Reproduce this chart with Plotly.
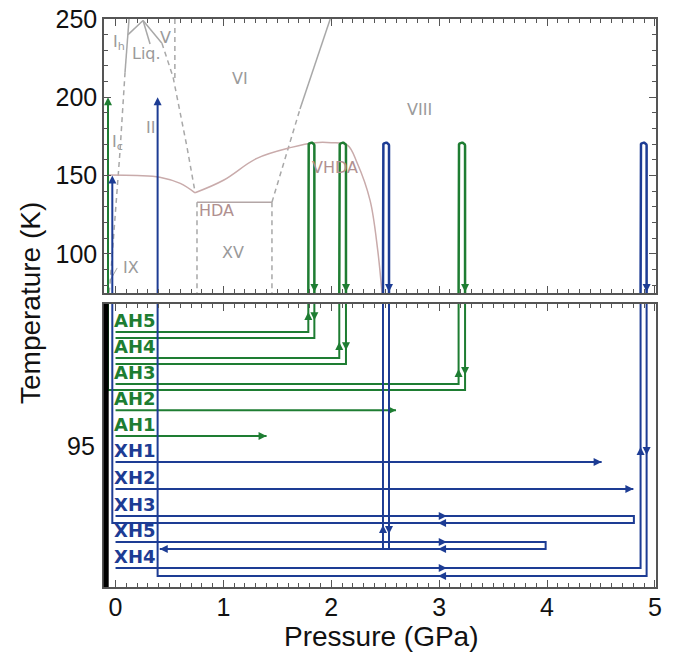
import numpy as np
import plotly.graph_objects as go

# ---------------- data ----------------
# Ice phase-boundary lines (pressure in GPa, temperature in K)
ih_liq_P = [0.125, 0.088]
ih_liq_T = [250, 216]
ih_iii_P = [0.116, 0.255]
ih_iii_T = [240, 249]
iii_liq_P = [0.255, 0.32]
iii_liq_T = [249, 234]
v_liq_P = [0.255, 0.43]
v_liq_T = [249, 234.5]
ic_dash_P = [0.088, 0.042, -0.051, -0.06]
ic_dash_T = [216, 166, 81, 75]
ii_dash_P = [0.43, 0.533, 0.663, 0.737]
ii_dash_T = [234.5, 213, 168, 139.5]
v_vi_P = [0.55, 0.55]
v_vi_T = [250, 212]
xv_left_P = [0.755, 0.755]
xv_right_P = [1.45, 1.45]
xv_side_T = [133, 75]
hda_P = [0.755, 1.45]
hda_T = [133, 133]
vi_viii_dash_P = [1.45, 1.71]
vi_viii_dash_T = [133, 192.5]
vi_viii_P = [1.71, 1.99]
vi_viii_T = [192.5, 250]
ix_ptr_P = [-0.05, 0.015]
ix_ptr_T = [83, 91]
# amorphous (LDA/HDA/VHDA) boundary
amorph_left_P = [-0.07, 0.2, 0.41, 0.6, 0.737]
amorph_left_T = [150.3, 150, 149, 145, 139]
amorph_right_P = [0.737, 1.0, 1.31, 1.63, 1.85, 2.0, 2.15, 2.24, 2.36, 2.43, 2.47]
amorph_right_T = [139, 147, 161, 168, 171, 171, 169.5, 158, 134, 102.5, 75]

phase_labels = ["I<sub>h</sub>", "Liq.", "V", "VI", "II", "I<sub>c</sub>", "IX", "XV", "VIII"]
phase_label_P = [0.03, 0.29, 0.46, 1.15, 0.32, 0.02, 0.14, 1.09, 2.82]
phase_label_T = [235, 228, 238.5, 212, 181, 171, 91, 101, 192]
amorph_labels = ["HDA", "VHDA"]
amorph_label_P = [0.94, 2.03]
amorph_label_T = [128, 155]

# lower (schematic) panel temperature tick
lower_tick_value = 95

# Sample pressure/temperature protocols
samples = ["AH5", "AH4", "AH3", "AH2", "AH1", "XH1", "XH2", "XH3", "XH5", "XH4"]
series = ["AH", "AH", "AH", "AH", "AH", "XH", "XH", "XH", "XH", "XH"]
row_out = [99.01, 98.09, 97.17, 96.25, 95.34, 94.42, 93.46, 92.51, 91.59, 90.67]
row_back = [98.80, 97.88, 96.96, None, None, None, None, 92.26, 91.34, 90.39]
start_P = 0.0
compress_P = [1.787, 2.074, 3.18, 2.60, 1.40, 4.506, 4.80, 4.805, 3.987, 4.867]
anneal_up_P = [1.787, 2.074, 3.18, None, None, None, None, None, 2.479, 4.867]
anneal_down_P = [1.843, 2.136, 3.24, None, None, None, None, None, 2.535, 4.923]
anneal_T = 171
release_P = [0.0, 0.0, -0.07, None, None, None, None, -0.03, 0.41, 0.39]
final_heat_T = [None, None, 200, None, None, None, None, 150, None, 200]
up_arrow_lvl = [99.72, 98.66, 97.70, None, None, None, None, None, 92.19, 94.95]
down_arrow_lvl = [99.43, 98.37, 97.49, None, None, None, None, None, 91.87, 94.66]
mid_arrows = [False, False, False, False, False, False, False, True, True, True]
release_arrow = [False, False, False, False, False, False, False, False, True, False]
mid_right_P = 3.07
mid_left_P = 2.99

# ---------------- style ----------------
GREEN = "#1e7d32"
BLUE = "#1d3c94"
GRAY = "#a8a8a8"
LABEL_GRAY = "#9a9a9a"
PINK = "#c9abab"
PINK_TXT = "#b09090"
FRAME = "#555555"

W, H = 678, 654
ML, MR, MT, MB = 104, 22, 19, 67
XR = [-0.107, 5.01]
TOP_R = [75, 250]
BOT_R = [90, 100]
plot_h = H - MT - MB
plot_w = W - ML - MR
top_dom = [(plot_h - 274) / plot_h, 1.0]
bot_dom = [0.0, 283 / plot_h]
px_per_P = plot_w / (XR[1] - XR[0])
px_per_T = (top_dom[1] - top_dom[0]) * plot_h / (TOP_R[1] - TOP_R[0])

fig = go.Figure()


def line(xs, ys, color, width=2, dash=None, top=True, shape="linear"):
    fig.add_trace(go.Scatter(
        x=xs, y=ys, mode="lines", xaxis="x" if top else "x2", yaxis="y" if top else "y2",
        line=dict(color=color, width=width, dash=dash, shape=shape),
        hoverinfo="skip", showlegend=False))


def arrow(x, y, direction, color, top=True, size=8):
    fig.add_trace(go.Scatter(
        x=[x], y=[y], mode="markers", xaxis="x" if top else "x2", yaxis="y" if top else "y2",
        marker=dict(symbol="arrow-" + direction, size=size, color=color, line=dict(width=0)),
        hoverinfo="skip", showlegend=False))


DASH = "5px,4px"
# phase diagram
line(ih_liq_P, ih_liq_T, GRAY, 1.5)
line(ih_iii_P, ih_iii_T, GRAY, 1.5)
line(iii_liq_P, iii_liq_T, GRAY, 1.5)
line(v_liq_P, v_liq_T, GRAY, 1.5)
line(ic_dash_P, ic_dash_T, GRAY, 1.5, DASH)
line(ii_dash_P, ii_dash_T, GRAY, 1.5, DASH)
line(v_vi_P, v_vi_T, GRAY, 1.5, DASH)
line(xv_left_P, xv_side_T, GRAY, 1.5, DASH)
line(xv_right_P, xv_side_T, GRAY, 1.5, DASH)
line(hda_P, hda_T, "#b3a6a6", 1.5)
line(vi_viii_dash_P, vi_viii_dash_T, GRAY, 1.5, DASH)
line(vi_viii_P, vi_viii_T, GRAY, 1.5)
line(ix_ptr_P, ix_ptr_T, GRAY, 1)
line(amorph_left_P, amorph_left_T, PINK, 1.5, shape="spline")
line(amorph_right_P, amorph_right_T, PINK, 1.5, shape="spline")

# sample paths
for i, name in enumerate(samples):
    c = GREEN if series[i] == "AH" else BLUE
    out, back = row_out[i], row_back[i]
    if back is None:
        line([start_P, compress_P[i]], [out, out], c, 2, top=False)
        arrow(compress_P[i], out, "right", c, top=False)
        continue
    rel = release_P[i]
    if anneal_up_P[i] is not None and anneal_up_P[i] == compress_P[i]:
        line([start_P, compress_P[i], compress_P[i]], [out, out, BOT_R[1]], c, 2, top=False)
        xs = [anneal_down_P[i], anneal_down_P[i], rel]
        ys = [BOT_R[1], back, back]
        if final_heat_T[i] is not None:
            xs.append(rel)
            ys.append(BOT_R[1])
        line(xs, ys, c, 2, top=False)
    else:
        xs = [start_P, compress_P[i], compress_P[i], rel]
        ys = [out, out, back, back]
        if final_heat_T[i] is not None:
            xs.append(rel)
            ys.append(BOT_R[1])
        line(xs, ys, c, 2, top=False)
        if anneal_up_P[i] is not None:
            line([anneal_up_P[i], anneal_up_P[i]], [back, BOT_R[1]], c, 2, top=False)
            line([anneal_down_P[i], anneal_down_P[i]], [BOT_R[1], back], c, 2, top=False)
    if mid_arrows[i]:
        arrow(mid_right_P, out, "right", c, top=False)
        arrow(mid_left_P, back, "left", c, top=False)
    if release_arrow[i]:
        arrow(rel, back, "left", c, top=False)
    if anneal_up_P[i] is not None:
        up, dn = anneal_up_P[i], anneal_down_P[i]
        arrow(up, up_arrow_lvl[i], "up", c, top=False)
        arrow(dn, down_arrow_lvl[i], "down", c, top=False)
        # rounded loop in the top panel
        w = (dn - up) / 2
        rT = w * px_per_P / px_per_T
        t = np.linspace(np.pi, 0, 13)
        lx = [up] + list((up + dn) / 2 + w * np.cos(t)) + [dn]
        ly = [TOP_R[0]] + list(anneal_T - rT + rT * np.sin(t)) + [TOP_R[0]]
        line(lx, ly, c, 2.5)
        arrow(dn, TOP_R[0] + 0.6, "down", c)
    if final_heat_T[i] is not None:
        line([rel, rel], [TOP_R[0], final_heat_T[i] - 2], c, 2)
        arrow(rel, final_heat_T[i], "up", c)

annotations = []
for txt, p, t in zip(phase_labels, phase_label_P, phase_label_T):
    annotations.append(dict(x=p, y=t, xref="x", yref="y", text=txt, showarrow=False,
                            font=dict(family="DejaVu Sans", size=16, color=LABEL_GRAY)))
for txt, p, t in zip(amorph_labels, amorph_label_P, amorph_label_T):
    annotations.append(dict(x=p, y=t, xref="x", yref="y", text=txt, showarrow=False,
                            font=dict(family="DejaVu Sans", size=16, color=PINK_TXT)))
for i, name in enumerate(samples):
    c = GREEN if series[i] == "AH" else BLUE
    annotations.append(dict(x=start_P, y=row_out[i], xref="x2", yref="y2", text="<b>%s</b>" % name,
                            showarrow=False, xanchor="left", yanchor="bottom", xshift=-4, yshift=-1,
                            font=dict(family="DejaVu Sans", size=18, color=c)))
# tick label of the lower panel
annotations.append(dict(x=-7 / plot_w, y=lower_tick_value, xref="paper", yref="y2",
                        text=str(lower_tick_value), showarrow=False, xanchor="right", yanchor="middle",
                        font=dict(family="Liberation Sans", size=25, color="#111111")))
annotations.append(dict(x=-74 / plot_w, y=(plot_h - 284) / plot_h, xref="paper", yref="paper",
                        text="Temperature (K)", textangle=-90, showarrow=False,
                        xanchor="center", yanchor="middle",
                        font=dict(family="Liberation Sans", size=28, color="#111111")))
annotations.append(dict(x=277 / plot_w, y=-49 / plot_h, xref="paper", yref="paper",
                        text="Pressure (GPa)", showarrow=False, xanchor="center", yanchor="middle",
                        font=dict(family="Liberation Sans", size=28, color="#111111")))

axis_common = dict(showline=True, linecolor=FRAME, linewidth=1.5, mirror="ticks", ticks="inside",
                   tickcolor=FRAME, tickwidth=1.2, ticklen=7, showgrid=False, zeroline=False,
                   automargin=False, ticklabeloverflow="allow",
                   tickfont=dict(family="Liberation Sans", size=25, color="#111111"))

fig.update_layout(
    width=W, height=H, margin=dict(l=ML, r=MR, t=MT, b=MB, autoexpand=False),
    plot_bgcolor="white", paper_bgcolor="white",
    xaxis=dict(axis_common, range=XR, domain=[0, 1], anchor="y", showticklabels=False,
               dtick=1, tick0=0, minor=dict(ticks="inside", dtick=0.1, ticklen=4, tickcolor=FRAME)),
    yaxis=dict(axis_common, range=TOP_R, domain=top_dom, anchor="x",
               tickvals=[100, 150, 200, 250],
               minor=dict(ticks="inside", dtick=10, tick0=0, ticklen=4, tickcolor=FRAME)),
    xaxis2=dict(axis_common, range=XR, domain=[0, 1], anchor="y2", dtick=1, tick0=0,
                ticklabelstandoff=-3,
                minor=dict(ticks="inside", dtick=0.1, ticklen=4, tickcolor=FRAME)),
    yaxis2=dict(axis_common, range=BOT_R, domain=bot_dom, anchor="x2",
                ticks="", showticklabels=False, mirror=True),
    annotations=annotations,
    shapes=[dict(type="line", xref="x2 domain", yref="y2 domain", x0=0.004, x1=0.004,
                 y0=0, y1=1, line=dict(color="black", width=5))],
)

fig.write_html("out.html", config={"displayModeBar": False},
               post_script="document.body.style.margin='0px';")
